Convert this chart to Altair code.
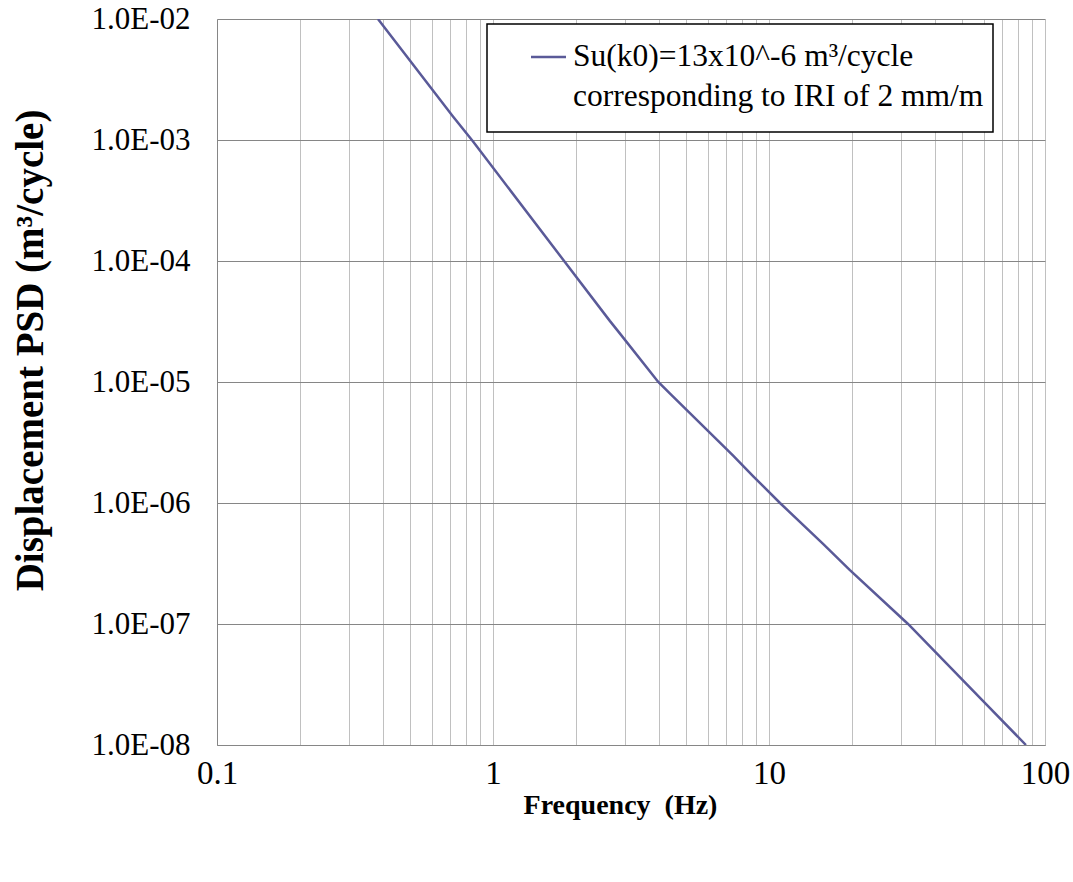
import altair as alt
import pandas as pd

# Values
freq_hz = [0.383, 0.715, 0.844, 1.81, 2.65, 2.89, 3.97, 4.38, 7.43, 8.77, 10.96, 15.7, 19.6, 31.9, 59.7, 85.3]
psd = [1e-2, 1.57e-3, 9.8e-4, 1e-4, 3.2e-5, 2.5e-5, 1e-5, 8.0e-6, 2.45e-6, 1.66e-6, 1e-6, 4.6e-7, 2.8e-7, 1e-7, 2.3e-8, 1e-8]

x_ticks = [0.1, 0.2, 0.3, 0.4, 0.5, 0.6, 0.7, 0.8, 0.9,
           1, 2, 3, 4, 5, 6, 7, 8, 9,
           10, 20, 30, 40, 50, 60, 70, 80, 90, 100]
y_ticks = [1e-8, 1e-7, 1e-6, 1e-5, 1e-4, 1e-3, 1e-2]

legend_lines = ["Su(k0)=13x10^-6 m³/cycle", "corresponding to IRI of 2 mm/m"]

FONT = "Liberation Serif"
LINE_COLOR = "#5a5a98"

df = pd.DataFrame({"f": freq_hz, "psd": psd})

W, H = 828, 726

line = alt.Chart(df).mark_line(color=LINE_COLOR, strokeWidth=2.5, clip=True).encode(
    x=alt.X("f:Q",
            scale=alt.Scale(type="log", domain=[0.1, 100], nice=False),
            axis=alt.Axis(values=x_ticks,
                          labelExpr="(datum.value == 0.1 || datum.value == 1 || datum.value == 10 || datum.value == 100) ? toString(datum.value) : ''",
                          labelOverlap=False, labelFlush=False,
                          grid=True, gridColor="#c0c0c0", gridWidth=1,
                          ticks=False, domainColor="#868686", domainWidth=1,
                          labelFont=FONT, labelFontSize=33, labelColor="black",
                          labelPadding=12,
                          title="Frequency \u00a0(Hz)", titleFont=FONT, titleFontSize=28,
                          titleFontWeight="bold", titleColor="black",
                          titleX=403, titleY=60, titleBaseline="middle",
                          titleAlign="center")),
    y=alt.Y("psd:Q",
            scale=alt.Scale(type="log", domain=[1e-8, 1e-2], nice=False),
            axis=alt.Axis(values=y_ticks,
                          labelExpr="'1.0E-0' + format(-round(log(datum.value)/LN10), 'd')",
                          labelOverlap=False, labelFlush=False,
                          grid=True, gridColor="#868686", gridWidth=1,
                          ticks=False, domainColor="#868686", domainWidth=1,
                          labelFont=FONT, labelFontSize=31, labelColor="black",
                          labelPadding=27,
                          title="Displacement PSD (m³/cycle)", titleFont=FONT, titleFontSize=39,
                          titleFontWeight="bold", titleColor="black",
                          titleX=-187, titleY=331, titleAngle=-90,
                          titleAlign="center", titleBaseline="middle")),
)

one = pd.DataFrame({"k": [0]})

legend_box = alt.Chart(one).mark_rect(fill="white", stroke="black", strokeWidth=1.5).encode(
    x=alt.value(270), x2=alt.value(776), y=alt.value(5), y2=alt.value(113)
)
legend_swatch = alt.Chart(one).mark_rule(color=LINE_COLOR, strokeWidth=2.5).encode(
    x=alt.value(314), x2=alt.value(349), y=alt.value(38)
)
legend_text1 = alt.Chart(one).mark_text(align="left", baseline="middle", font=FONT,
                                        fontSize=31.5, color="black").encode(
    x=alt.value(356), y=alt.value(38), text=alt.value(legend_lines[0])
)
legend_text2 = alt.Chart(one).mark_text(align="left", baseline="middle", font=FONT,
                                        fontSize=31.5, color="black").encode(
    x=alt.value(356), y=alt.value(78), text=alt.value(legend_lines[1])
)

chart = alt.layer(line, legend_box, legend_swatch, legend_text1, legend_text2).properties(
    width=W, height=H,
    autosize=alt.AutoSizeParams(type="none"),
    padding={"left": 217, "top": 19, "right": 28, "bottom": 137},
    background="white",
).configure_view(stroke=None)

chart.save("out.html", embed_options={"renderer": "svg", "actions": False})
